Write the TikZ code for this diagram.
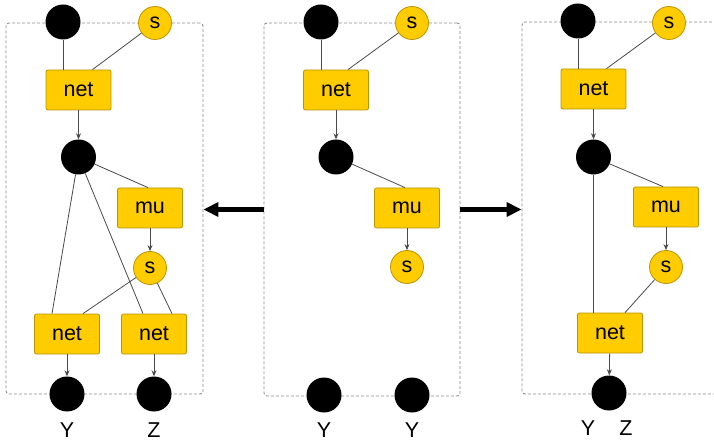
\documentclass[tikz,border=0pt]{standalone}
\usepackage{fontspec}
\setmainfont{Liberation Sans}
\usetikzlibrary{arrows.meta}

\definecolor{gold}{HTML}{FFCC00}
\definecolor{goldedge}{HTML}{B89400}
\definecolor{edgegray}{HTML}{4A4A4A}
\definecolor{framegray}{HTML}{8C8C8C}

\begin{document}
\begin{tikzpicture}[x=1pt,y=-1pt,
  txt/.style={font=\fontsize{21.5}{25}\selectfont},
  box/.style={txt, draw=goldedge, fill=gold, rounded corners=2pt,
    minimum width=65pt, minimum height=40pt, inner sep=0pt, line width=0.8pt},
  snode/.style={txt, circle, draw=goldedge, fill=gold, minimum size=33pt,
    inner sep=0pt, line width=0.8pt},
  dot/.style={circle, fill=black, minimum size=35pt, inner sep=0pt},
  link/.style={draw=edgegray, line width=0.8pt},
  flow/.style={link, -{Stealth[length=6pt,width=5pt]}},
  frame/.style={draw=framegray, dash pattern=on 3pt off 2pt, line width=0.9pt,
    rounded corners=3pt, inner sep=0pt},
  bigarrow/.style={line width=4.5pt, -{Triangle[length=15pt,width=14pt]}},
  lbl/.style={txt, inner sep=0pt}
]
\useasboundingbox (0,0) rectangle (714,443);
\clip (0,0) rectangle (714,443);

% dashed frames
\node[frame, minimum width=197pt, minimum height=371pt] (fL) at (104.5,208.5) {};
\node[frame, minimum width=196pt, minimum height=373pt] (fM) at (362,209.5) {};
\node[frame, minimum width=218pt, minimum height=372pt] (fR) at (631,208) {};

% left panel
\node[dot]   (La)  at (63,22) {};
\node[snode] (Ls)  at (155,23) {s};
\node[box]   (Ln)  at (78.5,90) {net};
\node[dot]   (Lb)  at (78.5,157) {};
\node[box]   (Lmu) at (150,208) {mu};
\node[snode] (Ls2) at (150,268) {s};
\node[box]   (Lnl) at (67,334) {net};
\node[box]   (Lnr) at (154,334) {net};
\node[dot]   (LY)  at (67,394) {};
\node[dot]   (LZ)  at (154,394) {};
\node[lbl]   (LYt) at (67,430) {Y};
\node[lbl]   (LZt) at (154,430) {Z};

\draw[link] (La) -- (La |- Ln.north);
\draw[link] (Ls) -- ([xshift=14pt]Ln.north);
\draw[flow] (Ln) -- (Lb);
\draw[link] (Lb) -- ([xshift=-2pt]Lmu.north);
\draw[link] (Lb) -- ([xshift=-15pt]Lnl.north);
\draw[link] (Lb) -- ([xshift=-11pt]Lnr.north);
\draw[flow] (Lmu) -- (Ls2);
\draw[link] (Ls2) -- ([xshift=16pt]Lnl.north);
\draw[link] (Ls2) -- ([xshift=18pt]Lnr.north);
\draw[flow] (Lnl) -- (LY);
\draw[flow] (Lnr) -- (LZ);

% middle panel
\node[dot]   (Ma)  at (321,22) {};
\node[snode] (Ms)  at (412,23) {s};
\node[box]   (Mn)  at (336,90) {net};
\node[dot]   (Mb)  at (336,157) {};
\node[box]   (Mmu) at (407,208) {mu};
\node[snode] (Ms2) at (407,267) {s};
\node[dot]   (MY1) at (324,395) {};
\node[dot]   (MY2) at (412,395) {};
\node[lbl]   (MY1t) at (324,430) {Y};
\node[lbl]   (MY2t) at (412,430) {Y};

\draw[link] (Ma) -- (Ma |- Mn.north);
\draw[link] (Ms) -- ([xshift=12pt]Mn.north);
\draw[flow] (Mn) -- (Mb);
\draw[link] (Mb) -- ([xshift=-2pt]Mmu.north);
\draw[flow] (Mmu) -- (Ms2);

% right panel
\node[dot]   (Ra)  at (578,21) {};
\node[snode] (Rs)  at (669,23) {s};
\node[box]   (Rn)  at (593.5,89) {net};
\node[dot]   (Rb)  at (593.5,157) {};
\node[box]   (Rmu) at (666,207) {mu};
\node[snode] (Rs2) at (666,267) {s};
\node[box]   (Rn2) at (610,333) {net};
\node[dot]   (RYZ) at (609,393) {};
\node[lbl]   (RYt) at (588,428) {Y};
\node[lbl]   (RZt) at (626,428) {Z};

\draw[link] (Ra) -- (Ra |- Rn.north);
\draw[link] (Rs) -- ([xshift=13pt]Rn.north);
\draw[flow] (Rn) -- (Rb);
\draw[link] (Rb) -- ([xshift=-3pt]Rmu.north);
\draw[link] (Rb) -- (Rb |- Rn2.north);
\draw[flow] (Rmu) -- (Rs2);
\draw[link] (Rs2) -- ([xshift=15pt]Rn2.north);
\draw[flow] (Rn2) -- (RYZ);

% transitions between the panels
\draw[bigarrow] (fM.west) -- (fM.west -| fL.east);
\draw[bigarrow] (fM.east) -- (fM.east -| fR.west);
\end{tikzpicture}
\end{document}
